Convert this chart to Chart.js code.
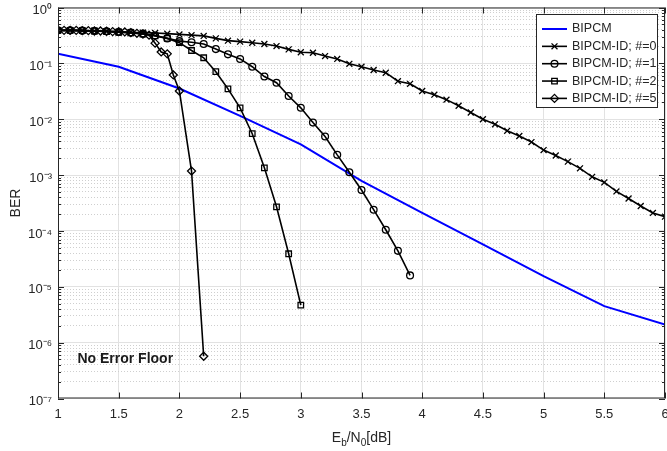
<!DOCTYPE html>
<html>
<head>
<meta charset="utf-8">
<script src="https://cdn.jsdelivr.net/npm/chart.js@4.4.1/dist/chart.umd.min.js"></script>
<style>
  html, body { margin: 0; padding: 0; background: #fff; }
  #wrap { width: 667px; height: 451px; }
</style>
</head>
<body>
<div id="wrap"><canvas id="berChart" width="667" height="451"></canvas></div>
<script>
// ---- data ----
const snrBipcm = [1, 1.5, 2, 2.5, 3, 3.5, 4, 4.5, 5, 5.5, 6];
const berBipcm = [0.148, 0.087, 0.0355, 0.0115, 3.55e-3, 7.9e-4, 2.1e-4, 5.75e-5, 1.55e-5, 4.5e-6, 2.1e-6];

const snrId0 = [1, 1.1, 1.2, 1.3, 1.4, 1.5, 1.6, 1.7, 1.8, 1.9, 2, 2.1, 2.2, 2.3, 2.4, 2.5, 2.6, 2.7, 2.8, 2.9,
                3, 3.1, 3.2, 3.3, 3.4, 3.5, 3.6, 3.7, 3.8, 3.9, 4, 4.1, 4.2, 4.3, 4.4, 4.5, 4.6, 4.7, 4.8, 4.9,
                5, 5.1, 5.2, 5.3, 5.4, 5.5, 5.6, 5.7, 5.8, 5.9, 6];
const berId0 = [0.39, 0.39, 0.385, 0.38, 0.375, 0.37, 0.36, 0.355, 0.35, 0.34, 0.33, 0.32, 0.31, 0.28, 0.255, 0.245, 0.234, 0.222, 0.204, 0.178,
                0.158, 0.155, 0.135, 0.12, 0.098, 0.087, 0.076, 0.068, 0.048, 0.043, 0.032, 0.0275, 0.0224, 0.0174, 0.0132, 0.01, 8.1e-3, 6.2e-3, 5.0e-3, 3.9e-3,
                2.8e-3, 2.24e-3, 1.74e-3, 1.32e-3, 9.3e-4, 7.4e-4, 5.1e-4, 3.8e-4, 2.8e-4, 2.1e-4, 1.8e-4];

const snrId1 = [1, 1.1, 1.2, 1.3, 1.4, 1.5, 1.6, 1.7, 1.8, 1.9, 2, 2.1, 2.2, 2.3, 2.4, 2.5, 2.6, 2.7, 2.8, 2.9,
                3, 3.1, 3.2, 3.3, 3.4, 3.5, 3.6, 3.7, 3.8, 3.9];
const berId1 = [0.39, 0.39, 0.385, 0.38, 0.375, 0.365, 0.355, 0.34, 0.315, 0.28, 0.25, 0.238, 0.222, 0.18, 0.145, 0.12, 0.087, 0.058, 0.045, 0.026,
                0.016, 8.7e-3, 4.9e-3, 2.3e-3, 1.12e-3, 5.4e-4, 2.4e-4, 1.05e-4, 4.4e-5, 1.6e-5];

const snrId2 = [1, 1.1, 1.2, 1.3, 1.4, 1.5, 1.6, 1.7, 1.8, 1.9, 2, 2.1, 2.2, 2.3, 2.4, 2.5, 2.6, 2.7, 2.8, 2.9, 3];
const berId2 = [0.39, 0.39, 0.385, 0.38, 0.37, 0.36, 0.35, 0.335, 0.31, 0.28, 0.235, 0.17, 0.126, 0.071, 0.035, 0.016, 5.5e-3, 1.35e-3, 2.7e-4, 3.9e-5, 4.7e-6];

const snrId5 = [1, 1.05, 1.1, 1.15, 1.2, 1.25, 1.3, 1.35, 1.4, 1.45, 1.5, 1.55, 1.6, 1.65, 1.7, 1.75, 1.8, 1.85, 1.9, 1.95, 2, 2.1, 2.2];
const berId5 = [0.39, 0.39, 0.39, 0.39, 0.385, 0.385, 0.38, 0.38, 0.375, 0.37, 0.37, 0.365, 0.355, 0.345, 0.335, 0.32, 0.23, 0.16, 0.148, 0.062, 0.032, 1.18e-3, 5.7e-7];

const seriesLabels = ['BIPCM', 'BIPCM-ID; #=0', 'BIPCM-ID; #=1', 'BIPCM-ID; #=2', 'BIPCM-ID; #=5'];

const xTickValues = [1, 1.5, 2, 2.5, 3, 3.5, 4, 4.5, 5, 5.5, 6];
const yTickValues = [1e-7, 1e-6, 1e-5, 1e-4, 1e-3, 1e-2, 1e-1, 1];

const noteText = 'No Error Floor';
const noteAt = { x: 1.16, y: 5.1e-7 };

// minor log grid: 2..9 inside each decade
const yMinorValues = [];
yTickValues.slice(0, -1).forEach(d => {
    for (let k = 2; k <= 9; k++) yMinorValues.push(d * k);
});

const FONT = "'Liberation Sans', Arial, Helvetica, sans-serif";
const TXT = '#262626';

const sup = { '-': '\u207B', '0': '\u2070', '1': '\u00B9', '2': '\u00B2', '3': '\u00B3', '4': '\u2074',
              '5': '\u2075', '6': '\u2076', '7': '\u2077', '8': '\u2078', '9': '\u2079' };
function powLabel(v) {
    const e = String(Math.round(Math.log10(v)));
    return '10' + e.split('').map(c => sup[c]).join('');
}

function pts(xs, ys) {
    return xs.map((x, i) => ({ x: x, y: ys[i] }));
}

const markerStyles = [false, 'crossRot', 'circle', 'rect', 'rectRot'];
const markerRadius = [0, 4.2, 3.4, 3.9, 4];

function blackSeries(idx, xs, ys, order) {
    return {
        label: seriesLabels[idx],
        data: pts(xs, ys),
        borderColor: '#000',
        borderWidth: 1.6,
        pointStyle: markerStyles[idx],
        pointRadius: markerRadius[idx],
        pointBorderColor: '#000',
        pointBackgroundColor: 'rgba(0,0,0,0)',
        pointBorderWidth: 1.3,
        tension: 0,
        fill: false,
        order: order
    };
}

const datasets = [
    {
        label: seriesLabels[0],
        data: pts(snrBipcm, berBipcm),
        borderColor: '#0000ff',
        borderWidth: 2,
        pointRadius: 0,
        pointStyle: false,
        tension: 0,
        fill: false,
        order: 5
    },
    blackSeries(1, snrId0, berId0, 4),
    blackSeries(2, snrId1, berId1, 3),
    blackSeries(3, snrId2, berId2, 2),
    blackSeries(4, snrId5, berId5, 1)
];

// frame, inward ticks, axis titles, note and legend
const decoPlugin = {
    id: 'deco',
    afterDraw(chart) {
        const ctx = chart.ctx;
        const a = chart.chartArea;
        const xs = chart.scales.x;
        const ys = chart.scales.y;
        ctx.save();

        // axes box
        ctx.strokeStyle = TXT;
        ctx.lineWidth = 1;
        ctx.strokeRect(a.left + 0.5, a.top + 0.5, a.right - a.left - 1, a.bottom - a.top - 1);

        // inward ticks
        ctx.beginPath();
        xTickValues.forEach(v => {
            const px = Math.round(xs.getPixelForValue(v)) + 0.5;
            ctx.moveTo(px, a.bottom); ctx.lineTo(px, a.bottom - 6);
            ctx.moveTo(px, a.top); ctx.lineTo(px, a.top + 6);
        });
        yTickValues.forEach(v => {
            const py = Math.round(ys.getPixelForValue(v)) + 0.5;
            ctx.moveTo(a.left, py); ctx.lineTo(a.left + 6, py);
            ctx.moveTo(a.right, py); ctx.lineTo(a.right - 6, py);
        });
        yMinorValues.forEach(v => {
            const py = Math.round(ys.getPixelForValue(v)) + 0.5;
            ctx.moveTo(a.left, py); ctx.lineTo(a.left + 3, py);
            ctx.moveTo(a.right, py); ctx.lineTo(a.right - 3, py);
        });
        ctx.stroke();

        // y title
        ctx.fillStyle = TXT;
        ctx.font = '14px ' + FONT;
        ctx.textAlign = 'center';
        ctx.textBaseline = 'middle';
        ctx.save();
        ctx.translate(16, (a.top + a.bottom) / 2);
        ctx.rotate(-Math.PI / 2);
        ctx.fillText('BER', 0, 0);
        ctx.restore();

        // x title with subscripts: E_b/N_0[dB]
        const parts = [['E', false], ['b', true], ['/N', false], ['0', true], ['[dB]', false]];
        const big = '14px ' + FONT, small = '10px ' + FONT;
        let w = 0;
        parts.forEach(p => { ctx.font = p[1] ? small : big; w += ctx.measureText(p[0]).width; });
        let cx = xs.getPixelForValue(3.5) - w / 2;
        const baseY = a.bottom + 43;
        ctx.textAlign = 'left';
        ctx.textBaseline = 'alphabetic';
        parts.forEach(p => {
            ctx.font = p[1] ? small : big;
            ctx.fillText(p[0], cx, p[1] ? baseY + 4 : baseY);
            cx += ctx.measureText(p[0]).width;
        });

        // annotation
        ctx.font = 'bold 14px ' + FONT;
        ctx.textBaseline = 'middle';
        ctx.fillStyle = '#1a1a1a';
        ctx.fillText(noteText, xs.getPixelForValue(noteAt.x), ys.getPixelForValue(noteAt.y));

        // legend box
        const lx = 536, ly = 14, lw = 121, lh = 93, rowH = 17.35;
        ctx.fillStyle = '#fff';
        ctx.fillRect(lx, ly, lw, lh);
        ctx.strokeStyle = TXT;
        ctx.lineWidth = 1;
        ctx.strokeRect(lx + 0.5, ly + 0.5, lw, lh);
        ctx.font = '12.5px ' + FONT;
        ctx.textBaseline = 'middle';
        datasets.forEach((ds, i) => {
            const y = ly + 15 + i * rowH;
            ctx.strokeStyle = ds.borderColor;
            ctx.lineWidth = ds.borderWidth;
            ctx.beginPath();
            ctx.moveTo(lx + 6, y); ctx.lineTo(lx + 31, y);
            ctx.stroke();
            if (ds.pointStyle && Chart.helpers && Chart.helpers.drawPoint) {
                ctx.strokeStyle = '#000';
                ctx.fillStyle = 'rgba(0,0,0,0)';
                ctx.lineWidth = ds.pointBorderWidth;
                Chart.helpers.drawPoint(ctx, {
                    pointStyle: ds.pointStyle, radius: ds.pointRadius,
                    borderWidth: ds.pointBorderWidth, rotation: 0
                }, lx + 18.5, y);
            }
            ctx.fillStyle = TXT;
            ctx.fillText(ds.label, lx + 36, y);
        });
        ctx.restore();
    }
};

new Chart(document.getElementById('berChart'), {
    type: 'line',
    data: { datasets: datasets },
    options: {
        responsive: false,
        animation: false,
        devicePixelRatio: 1,
        events: [],
        layout: { autoPadding: false, padding: { left: 0, right: 2, top: 7.5, bottom: 0 } },
        plugins: { legend: { display: false }, tooltip: { enabled: false } },
        scales: {
            x: {
                type: 'linear',
                position: 'bottom',
                min: 1,
                max: 6,
                afterBuildTicks: scale => { scale.ticks = xTickValues.map(v => ({ value: v })); },
                afterFit: scale => { scale.height = 52.5; scale.paddingLeft = 0; scale.paddingRight = 0; },
                ticks: {
                    color: TXT,
                    font: { family: FONT, size: 13 },
                    padding: 8,
                    maxRotation: 0,
                    autoSkip: false,
                    callback: v => String(v)
                },
                grid: { color: '#e2e2e2', lineWidth: 1, drawTicks: false },
                border: { display: false }
            },
            y: {
                type: 'logarithmic',
                position: 'left',
                min: 1e-7,
                max: 1,
                afterBuildTicks: scale => { scale.ticks = yTickValues.map(v => ({ value: v })); },
                afterFit: scale => { scale.width = 58; scale.paddingTop = 0; scale.paddingBottom = 0; },
                ticks: {
                    color: TXT,
                    font: { family: FONT, size: 13 },
                    padding: 6,
                    labelOffset: 3,
                    autoSkip: false,
                    callback: v => powLabel(v)
                },
                grid: { color: '#e2e2e2', lineWidth: 1, drawTicks: false },
                border: { display: false }
            },
            yMinor: {
                type: 'logarithmic',
                position: 'right',
                min: 1e-7,
                max: 1,
                afterBuildTicks: scale => { scale.ticks = yMinorValues.map(v => ({ value: v })); },
                afterFit: scale => { scale.width = 0; scale.paddingTop = 0; scale.paddingBottom = 0; },
                ticks: { display: false },
                grid: { color: '#cfcfcf', lineWidth: 1, drawTicks: false },
                border: { display: false, dash: [1, 2] }
            }
        }
    },
    plugins: [decoPlugin]
});
</script>
</body>
</html>
